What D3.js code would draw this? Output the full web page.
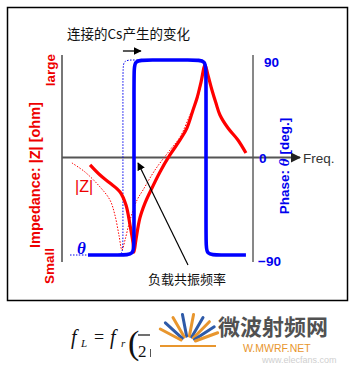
<!DOCTYPE html>
<html><head><meta charset="utf-8">
<script src="https://cdn.jsdelivr.net/npm/d3@7/dist/d3.min.js"></script>
<style>body{margin:0;background:#fff}svg{display:block}</style>
</head><body>
<script>
// ---- data (frequency in arbitrary units 0..100, |Z| normalized 0..100, phase in degrees)
const phaseTicks = [90, 0, -90];
const phaseTickLabels = ["90", "0", "\u221290"];
const zSolid = [[14.7,46.2],[19.9,41.0],[25.1,36.9],[30.4,32.3],[33.5,25.6],[35.6,15.4],[37.2,6.2],[37.7,1.5],[38.7,7.7],[40.8,19.0],[43.5,26.7],[46.1,32.3],[51.3,42.6],[56.5,51.3],[61.8,59.0],[65.4,65.1],[68.6,74.4],[70.7,80.5],[72.8,88.7],[74.9,97.4],[76.4,92.3],[78.5,84.6],[80.6,77.9],[82.7,71.8],[86.9,65.1],[92.1,59.0],[96.3,52.3]];
const zDotted = [[5.2,47.2],[12.0,42.6],[19.9,34.9],[25.1,28.2],[27.7,20.5],[29.8,10.3],[31.4,2.6],[33.0,7.7],[35.6,17.9],[39.3,28.2],[42.4,33.3],[48.7,43.6],[56.5,53.8],[61.8,60.5],[67.0,71.8],[70.7,79.5],[73.3,89.7],[74.9,97.4]];
const phaseSolid = [[13.6,-90],[31.0,-90],[37.7,-90],[37.7,-78],[37.7,78],[37.7,90],[44.4,90],[68.7,90],[75.4,90],[75.4,78],[75.4,-78],[75.4,-90],[82.1,-90],[96.3,-90]];
const phaseDotted = [[4.2,-90],[26.0,-90],[31.9,-90],[31.9,-80],[31.9,80],[31.9,90],[37.7,90],[44.0,90]];
const titleText = "连接的Cs产生的变化";
const resonanceText = "负载共振频率";

const W = 356, H = 365;
const svg = d3.select("body").append("svg").attr("width", W).attr("height", H);
svg.append("rect").attr("width", W).attr("height", H).attr("fill", "#fff");

const x = d3.scaleLinear().domain([0, 100]).range([62, 253]);
const yP = d3.scaleLinear().domain([-90, 90]).range([255, 60]);
const yZ = d3.scaleLinear().domain([0, 100]).range([255, 60]);

const defs = svg.append("defs");
defs.append("marker").attr("id", "ah").attr("viewBox", "0 0 10 10").attr("refX", 9).attr("refY", 5)
  .attr("markerWidth", 8).attr("markerHeight", 8).attr("markerUnits", "userSpaceOnUse").attr("orient", "auto")
  .append("path").attr("d", "M0,0L10,5L0,10Z").attr("fill", "#000");
defs.append("marker").attr("id", "ahAxis").attr("viewBox", "0 0 10 10").attr("refX", 9).attr("refY", 5)
  .attr("markerWidth", 10).attr("markerHeight", 10).attr("markerUnits", "userSpaceOnUse").attr("orient", "auto")
  .append("path").attr("d", "M0,0L10,5L0,10Z").attr("fill", "#222");

// frame
svg.append("rect").attr("x", 7.5).attr("y", 7.5).attr("width", 340).attr("height", 293)
  .attr("fill", "none").attr("stroke", "#000").attr("stroke-width", 1.5);

// left axis (impedance)
svg.append("line").attr("x1", x(0)).attr("x2", x(0)).attr("y1", 55).attr("y2", 262)
  .attr("stroke", "#777").attr("stroke-width", 2);
// right axis (phase)
const yAxisR = d3.axisRight(yP).tickValues(phaseTicks).tickSize(0).tickFormat("");
const gR = svg.append("g").attr("transform", `translate(${x(100)},0)`).call(yAxisR);
gR.select(".domain").attr("d", `M0,55V262`).attr("stroke", "#111").attr("stroke-width", 1);
// horizontal axis
svg.append("line").attr("x1", x(0)).attr("x2", 300).attr("y1", yP(0)).attr("y2", yP(0))
  .attr("stroke", "#555").attr("stroke-width", 2).attr("marker-end", "url(#ahAxis)");
svg.append("text").attr("x", 303).attr("y", yP(0) + 5).text("Freq.")
  .attr("font-family", "Liberation Sans, Arial, sans-serif").attr("font-size", 13.5).attr("fill", "#333");

// phase tick labels
const tickPos = [[264, 67], [259, 163], [258, 266]];
phaseTicks.forEach((t, i) => {
  svg.append("text").attr("x", tickPos[i][0]).attr("y", yP(t) + (i === 0 ? 7 : i === 1 ? 5.5 : 11))
    .text(phaseTickLabels[i]).attr("font-family", "Liberation Sans, Arial, sans-serif")
    .attr("font-weight", "bold").attr("font-size", 13.5).attr("fill", "#0000ee");
});

// axis titles
const ph = svg.append("text").attr("transform", "translate(289,166) rotate(-90)").attr("text-anchor", "middle")
  .attr("font-family", "Liberation Sans, Arial, sans-serif").attr("font-weight", "bold").attr("font-size", 13.5)
  .attr("fill", "#0000ee");
ph.append("tspan").text("Phase: ");
ph.append("tspan").attr("font-style", "italic").attr("font-family", "Liberation Serif, serif").attr("font-size", 15).text("\u03b8");
ph.append("tspan").text(" [deg.]");

svg.append("text").attr("transform", "translate(40,175) rotate(-90)").attr("text-anchor", "middle")
  .attr("font-family", "Liberation Sans, Arial, sans-serif").attr("font-weight", "bold").attr("font-size", 14.5)
  .attr("fill", "#ee0000").text("Impedance: |Z| [ohm]");
svg.append("text").attr("transform", "translate(55,70) rotate(-90)").attr("text-anchor", "middle")
  .attr("font-family", "Liberation Sans, Arial, sans-serif").attr("font-weight", "bold").attr("font-size", 13.5)
  .attr("fill", "#ee0000").text("large");
svg.append("text").attr("transform", "translate(54,266) rotate(-90)").attr("text-anchor", "middle")
  .attr("font-family", "Liberation Sans, Arial, sans-serif").attr("font-weight", "bold").attr("font-size", 13.5)
  .attr("fill", "#ee0000").text("Small");

// curves
const lineZ = d3.line().x(d => x(d[0])).y(d => yZ(d[1])).curve(d3.curveCatmullRom.alpha(0.5));
const lineP = d3.line().x(d => x(d[0])).y(d => yP(d[1])).curve(d3.curveBasis);

svg.append("path").attr("d", lineP(phaseDotted)).attr("fill", "none").attr("stroke", "#0000ee")
  .attr("stroke-width", 1).attr("stroke-dasharray", "1.5,1.5");
svg.append("path").attr("d", lineZ(zDotted)).attr("fill", "none").attr("stroke", "#ff0000")
  .attr("stroke-width", 1).attr("stroke-dasharray", "1.5,1.5");
svg.append("path").attr("d", lineZ(zSolid)).attr("fill", "none").attr("stroke", "#ff0000")
  .attr("stroke-width", 3.2).attr("stroke-linejoin", "round");
svg.append("path").attr("d", lineP(phaseSolid)).attr("fill", "none").attr("stroke", "#0000ff")
  .attr("stroke-width", 3.6);

// curve labels
svg.append("text").attr("x", 75).attr("y", 192).text("|Z|")
  .attr("font-family", "Liberation Sans, Arial, sans-serif").attr("font-size", 16).attr("fill", "#ee0000");
svg.append("text").attr("x", 77).attr("y", 254).text("\u03b8")
  .attr("font-family", "Liberation Serif, serif").attr("font-style", "italic").attr("font-weight", "bold")
  .attr("font-size", 17).attr("fill", "#0000ee");

// title & shift arrow
svg.append("text").attr("x", 67).attr("y", 39).text(titleText)
  .attr("font-family", "Noto Sans CJK SC, sans-serif").attr("font-size", 13.5).attr("fill", "#111");
svg.append("line").attr("x1", x(31.9)).attr("x2", x(41.3)).attr("y1", 51).attr("y2", 51)
  .attr("stroke", "#000").attr("stroke-width", 1.3).attr("marker-end", "url(#ah)");

// resonance annotation
svg.append("line").attr("x1", 188).attr("y1", 265).attr("x2", x(39.8)).attr("y2", yP(-5))
  .attr("stroke", "#000").attr("stroke-width", 1.2).attr("marker-end", "url(#ah)");
svg.append("text").attr("x", 148).attr("y", 284).text(resonanceText)
  .attr("font-family", "Noto Sans CJK SC, sans-serif").attr("font-size", 13).attr("fill", "#111");

// formula fragment
const ff = "Liberation Serif, Times New Roman, serif";
const fm = svg.append("g").attr("font-family", ff).attr("fill", "#111");
fm.append("text").attr("x", 71).attr("y", 344).attr("font-style", "italic").attr("font-size", 20).text("f");
fm.append("text").attr("x", 81).attr("y", 347).attr("font-style", "italic").attr("font-size", 11).text("L");
fm.append("text").attr("x", 94).attr("y", 343).attr("font-size", 18).text("=");
fm.append("text").attr("x", 110).attr("y", 344).attr("font-style", "italic").attr("font-size", 20).text("f");
fm.append("text").attr("x", 121).attr("y", 347).attr("font-style", "italic").attr("font-size", 11).text("r");
fm.append("text").attr("x", 128).attr("y", 354).attr("font-size", 34).attr("font-weight", "normal").text("(");
fm.append("line").attr("x1", 138).attr("x2", 150).attr("y1", 335).attr("y2", 335).attr("stroke", "#111").attr("stroke-width", 1.2);
fm.append("text").attr("x", 138).attr("y", 357).attr("font-size", 17).text("2");
fm.append("line").attr("x1", 150.5).attr("x2", 150.5).attr("y1", 349).attr("y2", 357).attr("stroke", "#555").attr("stroke-width", 1);

// watermark
const wm = svg.append("g");
const rays = [[-80, "#e8962e"], [-62, "#2e5aa8"], [-48, "#e8962e"], [-35, "#2e5aa8"], [-22, "#e8962e"], [-100, "#2e5aa8"], [-118, "#e8962e"], [-135, "#2e5aa8"], [-150, "#e8962e"]];
rays.forEach(r => {
  const a = r[0] * Math.PI / 180;
  wm.append("line").attr("x1", 188 + Math.cos(a) * 8).attr("y1", 344 + Math.sin(a) * 8)
    .attr("x2", 188 + Math.cos(a) * 32).attr("y2", 344 + Math.sin(a) * 30)
    .attr("stroke", r[1]).attr("stroke-width", 3).attr("stroke-linecap", "round");
});
wm.append("line").attr("x1", 160).attr("x2", 216).attr("y1", 346).attr("y2", 346).attr("stroke", "#e8962e").attr("stroke-width", 2);
wm.append("text").attr("x", 218).attr("y", 335).text("微波射频网")
  .attr("font-family", "Noto Sans CJK SC, sans-serif").attr("font-weight", "bold").attr("font-size", 22)
  .attr("fill", "#333").attr("opacity", 0.85);
wm.append("text").attr("x", 243).attr("y", 352).text("W.MWRF.NET")
  .attr("font-family", "Liberation Sans, Arial, sans-serif").attr("font-size", 10.5).attr("fill", "#e8962e");
wm.append("text").attr("x", 262).attr("y", 363).text("www.elecfans.com")
  .attr("font-family", "Liberation Sans, Arial, sans-serif").attr("font-size", 9).attr("fill", "#bbb").attr("opacity", 0.7);
</script>
</body></html>
